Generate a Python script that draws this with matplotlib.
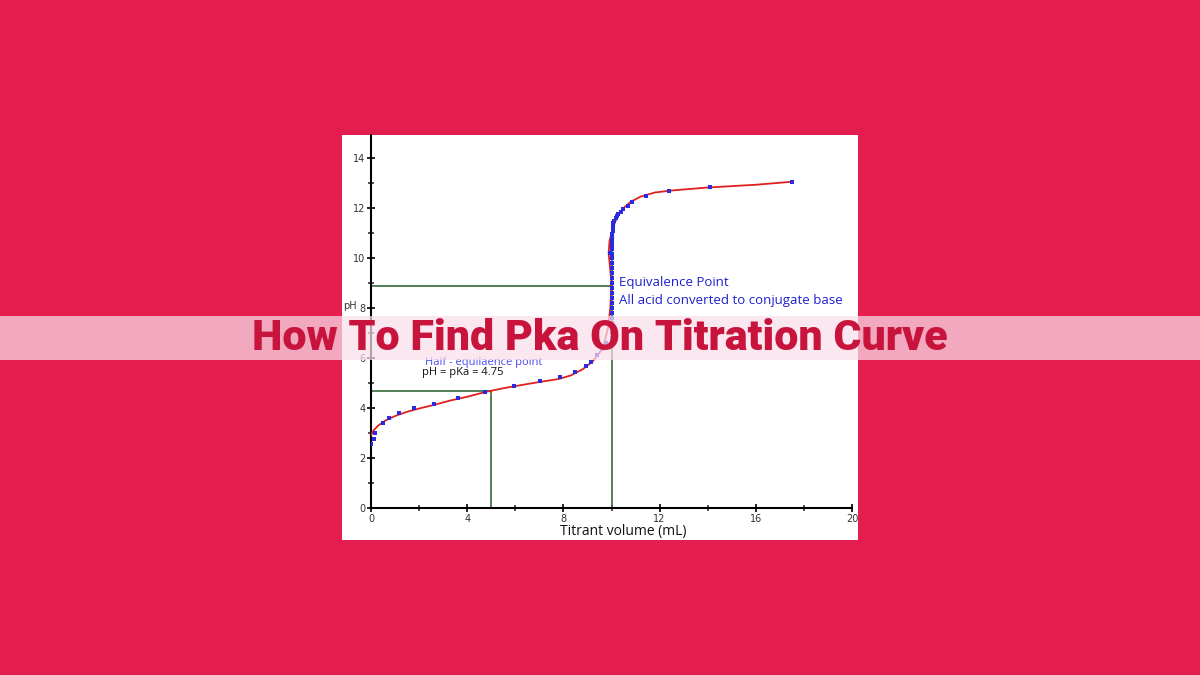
import matplotlib
matplotlib.use("Agg")
import matplotlib.pyplot as plt
from matplotlib.patches import Rectangle
from matplotlib.ticker import MultipleLocator

# measured titration points (mL, pH)
vol_pts = [0.0, 0.14, 0.17, 0.49, 0.76, 1.18, 1.79, 2.63, 3.62, 4.75, 5.96,
           7.01, 7.85, 8.47, 8.95, 9.16, 9.4, 9.6, 9.75]
ph_pts = [2.56, 2.77, 3.01, 3.41, 3.61, 3.81, 4.01, 4.17, 4.41, 4.65, 4.88,
          5.07, 5.23, 5.43, 5.68, 5.84, 6.12, 6.35, 6.6]

# dense readings taken right at the equivalence point
eq_vol_pts = [10.03, 10.03, 10.03, 10.04, 10.04, 10.04, 10.04, 10.04, 10.04,
              10.04, 10.04, 10.04, 10.04, 10.04, 10.04, 10.04, 10.04, 10.04,
              9.94, 10.04, 10.04, 10.04, 10.04, 10.04, 10.05, 10.06, 10.08]
eq_ph_pts = [6.8, 7.0, 7.2, 7.4, 7.6, 7.8, 8.0, 8.2, 8.4, 8.6, 8.8, 9.0,
             9.2, 9.4, 9.6, 9.8, 10.0, 10.15, 10.2, 10.35, 10.5, 10.65,
             10.8, 10.95, 11.1, 11.25, 11.4]

# points after equivalence
post_vol_pts = [10.12, 10.17, 10.21, 10.28, 10.38, 10.49, 10.67, 10.87,
                11.43, 12.4, 14.1, 17.5]
post_ph_pts = [11.5, 11.62, 11.7, 11.78, 11.86, 11.95, 12.1, 12.25,
               12.5, 12.7, 12.85, 13.05]

# fitted curve
fit_vol = [0.0, 0.1, 0.3, 0.6, 1.0, 1.5, 2.0, 2.6, 3.3, 4.0, 4.75, 5.5,
           6.2, 7.0, 7.8, 8.3, 8.8, 9.2, 9.5, 9.7, 9.85, 9.95, 10.0, 9.93,
           9.88, 9.92, 10.05, 10.15, 10.3, 10.5, 10.8, 11.2, 11.8, 12.5,
           14.0, 16.0, 17.5]
fit_ph = [2.92, 3.1, 3.3, 3.5, 3.68, 3.85, 3.98, 4.12, 4.3, 4.45, 4.64, 4.79,
          4.91, 5.04, 5.16, 5.3, 5.55, 5.85, 6.2, 6.6, 7.2, 8.0, 9.0, 9.7,
          10.2, 10.7, 11.15, 11.45, 11.75, 12.0, 12.25, 12.45, 12.62, 12.7,
          12.82, 12.93, 13.05]

equiv_vol, equiv_ph, equiv_top = 10.0, 8.9, 11.4
half_vol, half_ph = 5.0, 4.68

bg = "#E31E4E"
green = "#356B3C"
blue = "#2A2AE0"

fig = plt.figure(figsize=(12, 6.75), dpi=100)
fig.patch.set_facecolor(bg)

# white chart panel
fig.patches.append(Rectangle((0.285, 0.2), 0.43, 0.6, transform=fig.transFigure,
                             facecolor="white", edgecolor="none", zorder=-5))

ax = fig.add_axes([0.3092, 0.2474, 0.4008, 0.5526])
ax.set_facecolor("none")
ax.set_xlim(0, 20)
ax.set_ylim(0, 14.92)
for s in ["top", "right"]:
    ax.spines[s].set_visible(False)
for s in ["left", "bottom"]:
    ax.spines[s].set_linewidth(1.5)
    ax.spines[s].set_color("black")

ax.xaxis.set_major_locator(MultipleLocator(4))
ax.xaxis.set_minor_locator(MultipleLocator(2))
ax.yaxis.set_major_locator(MultipleLocator(2))
ax.yaxis.set_minor_locator(MultipleLocator(1))
ax.tick_params(which="major", direction="inout", length=6, width=1.2,
               labelsize=7, colors="black", labelcolor="#333333", pad=1)
ax.tick_params(which="minor", direction="inout", length=5, width=1.2,
               colors="#333333")

# guide lines
ax.plot([0, equiv_vol], [equiv_ph, equiv_ph], color=green, lw=1.2, zorder=2)
ax.plot([equiv_vol, equiv_vol], [0, equiv_top], color=green, lw=1.2, zorder=2)
ax.plot([0, half_vol], [half_ph, half_ph], color=green, lw=1.2, zorder=2)
ax.plot([half_vol, half_vol], [0, half_ph], color=green, lw=1.2, zorder=2)

ax.plot(fit_vol, fit_ph, color="#E0201E", lw=1.3, zorder=3)
ax.plot(vol_pts, ph_pts, ls="none", marker="s", ms=3.2, mew=0, color=blue, zorder=4)
ax.plot(post_vol_pts, post_ph_pts, ls="none", marker="s", ms=3.2, mew=0, color=blue, zorder=4)
ax.plot(eq_vol_pts, eq_ph_pts, ls="none", marker="s", ms=2.6, mew=0, color=blue, zorder=4)

ax.text(10.31, 9.04, "Equivalence Point", color="#1F1FD0", fontsize=9.5,
        family="Open Sans", va="center", ha="left")
ax.text(10.31, 8.32, "All acid converted to conjugate base", color="#1F1FD0",
        fontsize=9.5, family="Open Sans", va="center", ha="left")
ax.text(2.25, 5.84, "Half - equilaence point", color="#4848F0", fontsize=8,
        family="Open Sans", va="center", ha="left")
ax.text(2.12, 5.44, "pH = pKa = 4.75", color="#111111", fontsize=8,
        family="Open Sans", va="center", ha="left")

ax.text(-0.6, 8.1, "pH", fontsize=7, color="#333333", ha="right", va="center")
ax.text(10.5, -0.92, "Titrant volume (mL)", fontsize=10, family="Open Sans",
        ha="center", va="center", color="#111111")

# title banner
fig.patches.append(Rectangle((0, 1 - 360 / 675), 1, 44 / 675, transform=fig.transFigure,
                             facecolor="#F9DFEA", alpha=0.72, edgecolor="none", zorder=10))
fig.text(0.5, 1 - 339 / 675, "How To Find Pka On Titration Curve", fontsize=31,
         fontweight="black", family="Roboto", color="#C8143C",
         ha="center", va="center", zorder=11)

fig.savefig("out.png", dpi=100, facecolor=bg)
